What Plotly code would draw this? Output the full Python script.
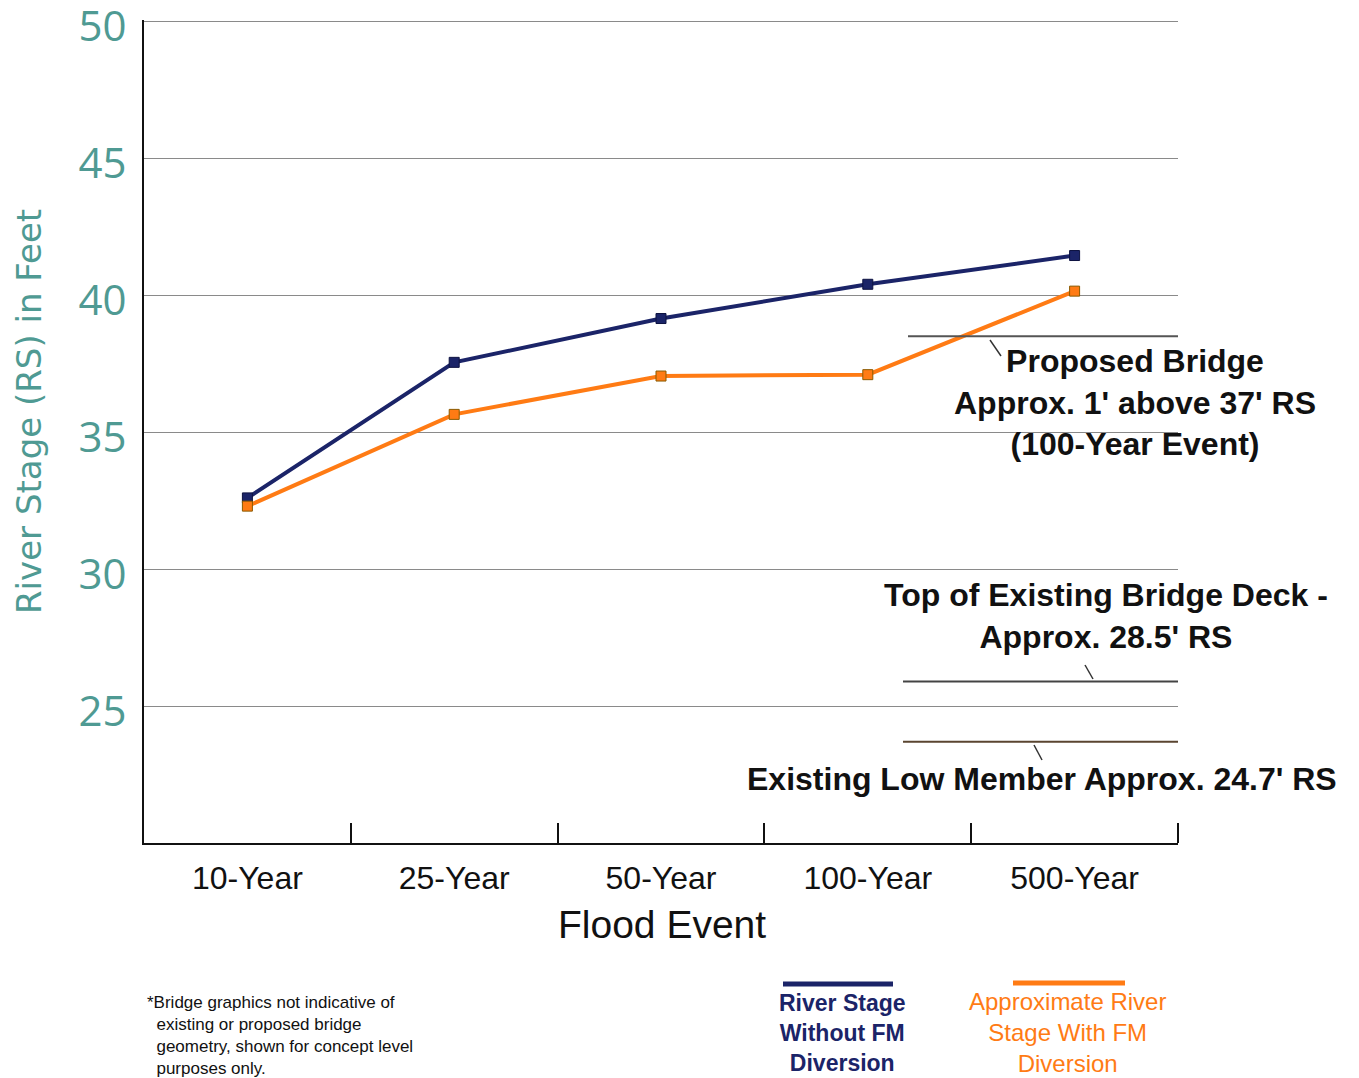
import plotly.graph_objects as go

categories = ["10-Year", "25-Year", "50-Year", "100-Year", "500-Year"]
without_fm = [32.6, 37.55, 39.15, 40.4, 41.45]
with_fm = [32.3, 35.65, 37.05, 37.1, 40.15]
y_ticks = [25, 30, 35, 40, 45, 50]
ref_levels = [38.5, 25.9, 23.7]   # proposed bridge, existing deck, existing low member
ref_colors = ["#555555", "#444444", "#5a4530"]

NAVY = "#1b2468"
ORANGE = "#ff7b14"
TEAL = "#4f9a93"
FONT = "Liberation Sans, Arial, sans-serif"

# page offset of the plotly div (default body margin)
OFF = 8
L, T, R, B = 144, 20, 1178, 843   # plot area in page pixels

fig = go.Figure()
fig.add_trace(go.Scatter(x=categories, y=without_fm, mode="lines+markers",
                         line=dict(color=NAVY, width=4),
                         marker=dict(symbol="square", size=10, color=NAVY,
                                     line=dict(color="#0d1240", width=1)),
                         name="River Stage Without FM Diversion", showlegend=False))
fig.add_trace(go.Scatter(x=categories, y=with_fm, mode="lines+markers",
                         line=dict(color=ORANGE, width=4),
                         marker=dict(symbol="square", size=10, color=ORANGE,
                                     line=dict(color="#8a5a00", width=1)),
                         name="Approximate River Stage With FM Diversion", showlegend=False))


def px(xp):
    return (xp - L) / (R - L)


def py(yp):
    return 1 - (yp - T) / (B - T)


# reference bridge levels
x0s = [px(908), px(903), px(903)]
for lvl, c, x0 in zip(ref_levels, ref_colors, x0s):
    fig.add_shape(type="line", xref="paper", yref="y", x0=x0, x1=1.0, y0=lvl, y1=lvl,
                  line=dict(color=c, width=2))

# pointer ticks
for (xa, ya, xb, yb) in [(990, 340, 1001, 356), (1085, 665, 1093, 679), (1034, 745, 1042, 760)]:
    fig.add_shape(type="line", xref="paper", yref="paper", x0=px(xa), y0=py(ya), x1=px(xb), y1=py(yb),
                  line=dict(color="#333333", width=1.5))

# right-end axis tick
fig.add_shape(type="line", xref="paper", yref="paper", x0=1, x1=1, y0=0, y1=py(823),
              line=dict(color="#111111", width=2))

ann_font = dict(family=FONT, size=32, color="#111111")
fig.add_annotation(xref="paper", yref="paper", x=px(1135), y=py(402),
                   text="<b>Proposed Bridge<br>Approx. 1' above 37' RS<br>(100-Year Event)</b>",
                   showarrow=False, font=ann_font, align="center", xanchor="center", yanchor="middle")
fig.add_annotation(xref="paper", yref="paper", x=px(1106), y=py(616),
                   text="<b>Top of Existing Bridge Deck -<br>Approx. 28.5' RS</b>",
                   showarrow=False, font=ann_font, align="center", xanchor="center", yanchor="middle")
fig.add_annotation(xref="paper", yref="paper", x=px(1042), y=py(779),
                   text="<b>Existing Low Member Approx. 24.7' RS</b>",
                   showarrow=False, font=ann_font, align="center", xanchor="center", yanchor="middle")

# y-axis title
fig.add_annotation(xref="paper", yref="paper", x=px(29), y=py(412), text="River Stage (RS) in Feet",
                   textangle=-90, showarrow=False, font=dict(family="DejaVu Sans", size=34, color=TEAL),
                   xanchor="center", yanchor="middle")
# x-axis title
fig.add_annotation(xref="paper", yref="paper", x=px(662), y=py(924), text="Flood Event",
                   showarrow=False, font=dict(family=FONT, size=39, color="#111111"),
                   xanchor="center", yanchor="middle")

# footnote
fig.add_annotation(xref="paper", yref="paper", x=px(145), y=py(1035),
                   text="*Bridge graphics not indicative of<br>&nbsp;&nbsp;existing or proposed bridge<br>&nbsp;&nbsp;geometry, shown for concept level<br>&nbsp;&nbsp;purposes only.",
                   showarrow=False, align="left", xanchor="left", yanchor="middle",
                   font=dict(family=FONT, size=17, color="#111111"))

# custom legend
fig.add_shape(type="line", xref="paper", yref="paper", x0=px(783), x1=px(893), y0=py(984), y1=py(984),
              line=dict(color=NAVY, width=5))
fig.add_shape(type="line", xref="paper", yref="paper", x0=px(1013), x1=px(1125), y0=py(983), y1=py(983),
              line=dict(color=ORANGE, width=5))
fig.add_annotation(xref="paper", yref="paper", x=px(842), y=py(1033),
                   text="<b>River Stage<br>Without FM<br>Diversion</b>", showarrow=False,
                   align="center", xanchor="center", yanchor="middle",
                   font=dict(family=FONT, size=23, color=NAVY))
fig.add_annotation(xref="paper", yref="paper", x=px(1067), y=py(1032),
                   text="Approximate River<br>Stage With FM<br>Diversion", showarrow=False,
                   align="center", xanchor="center", yanchor="middle",
                   font=dict(family=FONT, size=24, color=ORANGE))

fig.update_layout(
    width=1359 - OFF, height=1078 - OFF,
    margin=dict(l=L - OFF, r=1359 - R, t=T - OFF, b=1078 - B, autoexpand=False),
    paper_bgcolor="white", plot_bgcolor="white",
    font=dict(family=FONT),
    xaxis=dict(type="category", range=[-0.5, 4.5], showgrid=False, automargin=False,
               showline=True, linecolor="#111111", linewidth=2,
               ticks="inside", tickson="boundaries", ticklen=20, tickwidth=2, tickcolor="#111111",
               tickfont=dict(family=FONT, size=32, color="#111111"), ticklabelstandoff=6),
    yaxis=dict(range=[20, 50.05], tickvals=y_ticks, showgrid=True, gridcolor="#8a8a8a", gridwidth=1,
               showline=True, linecolor="#111111", linewidth=2, ticks="", automargin=False,
               tickfont=dict(family="Open Sans", size=42, color=TEAL), ticklabelstandoff=7,
               ticklabelshift=5, ticklabeloverflow="allow", zeroline=False),
)

fig.write_html("out.html")
